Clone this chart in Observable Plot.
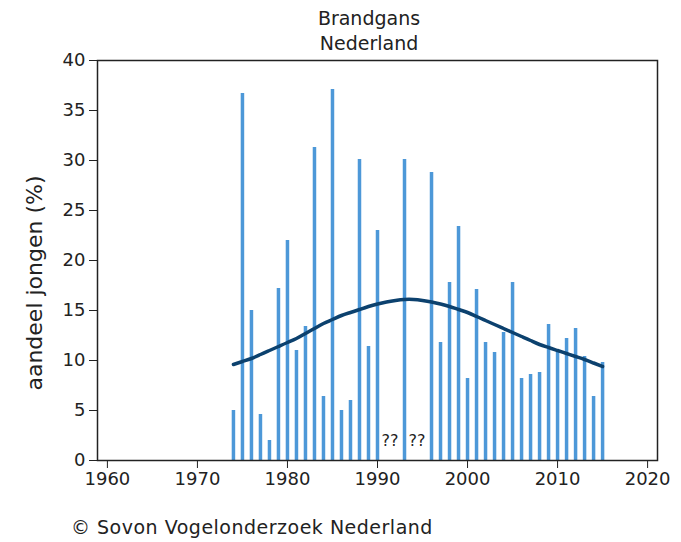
<!DOCTYPE html>
<html>
<head>
<meta charset="utf-8">
<script src="https://cdn.jsdelivr.net/npm/d3@7"></script>
<script src="https://cdn.jsdelivr.net/npm/@observablehq/plot@0.6"></script>
<style>
  html, body { margin: 0; padding: 0; background: #fff; }
  #wrap { position: relative; width: 681px; height: 542px; font-family: "DejaVu Sans", Verdana, sans-serif; color: #222; }
  .title { position: absolute; left: 269px; width: 200px; text-align: center; font-size: 19px; line-height: 24px; }
  #ylabel { position: absolute; left: 34px; top: 283px; transform: translate(-50%, -50%) rotate(-90deg); white-space: nowrap; font-size: 22px; }
  #caption { position: absolute; left: 71px; top: 515px; font-size: 19px; letter-spacing: 0.5px; line-height: 24px; white-space: nowrap; }
  svg { position: absolute; left: 0; top: 0; }
</style>
</head>
<body>
<div id="wrap">
  <div class="title" style="top:6px">Brandgans</div>
  <div class="title" style="top:31px">Nederland</div>
  <div id="ylabel">aandeel jongen (%)</div>
  <div id="caption">© Sovon Vogelonderzoek Nederland</div>
</div>
<script>
const years = [1974,1975,1976,1977,1978,1979,1980,1981,1982,1983,1984,1985,1986,1987,1988,1989,1990,
  1993,1996,1997,1998,1999,2000,2001,2002,2003,2004,2005,2006,2007,2008,2009,2010,2011,2012,2013,2014,2015];
const shares = [5.0,36.7,15.0,4.6,2.0,17.2,22.0,11.0,13.4,31.3,6.4,37.1,5.0,6.0,30.1,11.4,23.0,
  30.1,28.8,11.8,17.8,23.4,8.2,17.1,11.8,10.8,12.8,17.8,8.2,8.6,8.8,13.6,10.8,12.2,13.2,10.4,6.4,9.8];
const unknownYears = [1991, 1994];
const trendYears = [1974,1975,1976,1977,1978,1979,1980,1981,1982,1983,1984,1985,1986,1987,1988,1989,1990,
  1991,1992,1993,1994,1995,1996,1997,1998,1999,2000,2001,2002,2003,2004,2005,2006,2007,2008,2009,2010,
  2011,2012,2013,2014,2015];
const trendValues = [9.6,9.9,10.2,10.6,11.0,11.4,11.8,12.2,12.7,13.2,13.7,14.1,14.5,14.8,15.1,15.4,15.65,
  15.85,16.0,16.1,16.1,16.0,15.85,15.65,15.4,15.1,14.8,14.4,14.0,13.6,13.2,12.8,12.4,12.0,11.6,11.3,11.0,
  10.7,10.4,10.1,9.75,9.4];
const xTicks = [1960,1970,1980,1990,2000,2010,2020];
const yTicks = [0,5,10,15,20,25,30,35,40];

const bars = years.map((y, i) => ({year: y, value: shares[i]}));
const trend = trendYears.map((y, i) => ({year: y, value: trendValues[i]}));

const chart = Plot.plot({
  width: 681,
  height: 542,
  marginLeft: 97,
  marginRight: 24,
  marginTop: 60,
  marginBottom: 82,
  style: {fontFamily: '"DejaVu Sans", Verdana, sans-serif', fontSize: "18px", color: "#222", background: "transparent"},
  x: {domain: [1958.9, 2021.1], ticks: xTicks, tickFormat: d => String(d), label: null, tickSize: 8, tickPadding: 4},
  y: {domain: [0, 40], ticks: yTicks, label: null, tickSize: 8, tickPadding: 4},
  marks: [
    Plot.ruleX(bars, {x: "year", y1: 0, y2: "value", stroke: "#4d98d8", strokeWidth: 3.5}),
    Plot.line(trend, {x: "year", y: "value", stroke: "#0c416e", strokeWidth: 3.5, curve: "natural"}),
    Plot.text(unknownYears, {x: d => d, y: 0, text: () => "??", dy: -20, dx: 3.5, fontSize: 16, fill: "#222"}),
    Plot.frame({stroke: "#222", strokeWidth: 1.5})
  ]
});
document.getElementById("wrap").prepend(chart);
</script>
</body>
</html>
